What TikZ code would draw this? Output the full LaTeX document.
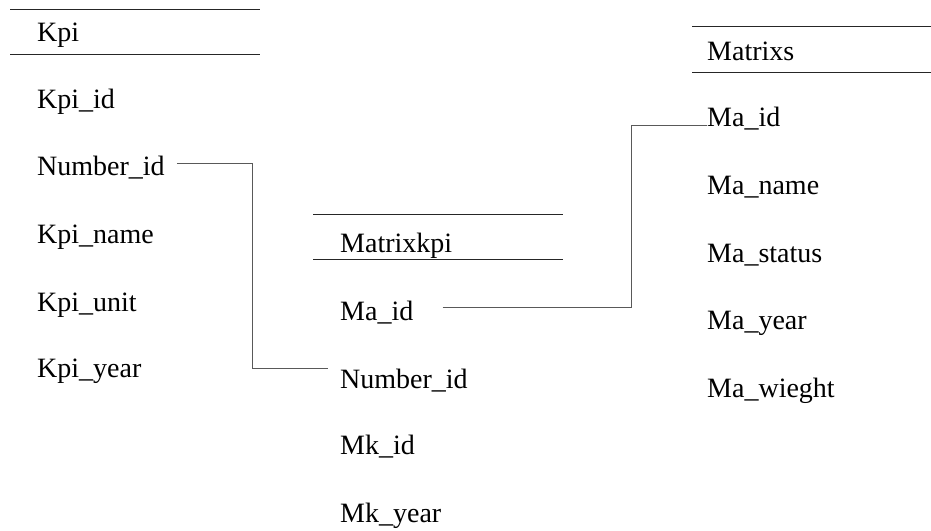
\documentclass[tikz,border=0pt]{standalone}
\usepackage{fontspec}
\setmainfont{Liberation Serif}

\tikzset{
  field/.style = {anchor = base west, inner sep = 0pt, font = \fontsize{28}{32}\selectfont},
  rule/.style  = {line width = 1pt, black!85},
  link/.style  = {line width = 1pt, black!65}
}

\begin{document}
\begin{tikzpicture}[x = 1pt, y = -1pt]
\useasboundingbox (0, 0) rectangle (931, 530);
% Horizontal lines
\draw[rule](10, 9) -- (260, 9);
\draw[rule](10, 54) -- (260, 54);
\draw[rule](313, 214) -- (563, 214);
\draw[rule](313, 259) -- (563, 259);
\draw[rule](692, 26) -- (931, 26);
\draw[rule](692, 72) -- (931, 72);
% Kpi
\node[field] (kpi) at (37, 41) {Kpi};
\node[field] (kid) at (37, 108) {Kpi\_id};
\node[field] (knum) at (37, 175) {Number\_id};
\node[field] (kname) at (37, 243) {Kpi\_name};
\node[field] (kunit) at (37, 311) {Kpi\_unit};
\node[field] (kyear) at (37, 377) {Kpi\_year};
% Matrixkpi
\node[field] (mk) at (340, 252) {Matrixkpi};
\node[field] (mkma) at (340, 320) {Ma\_id};
\node[field] (mknum) at (340, 388) {Number\_id};
\node[field] (mkid) at (340, 454) {Mk\_id};
\node[field] (mkyear) at (340, 522) {Mk\_year};
% Matrixs
\node[field] (ma) at (707, 60) {Matrixs};
\node[field] (maid) at (707, 126) {Ma\_id};
\node[field] (maname) at (707, 194) {Ma\_name};
\node[field] (mastat) at (707, 262) {Ma\_status};
\node[field] (mayear) at (707, 329) {Ma\_year};
\node[field] (maw) at (707, 397) {Ma\_wieght};
% Links
\draw[link]([xshift = 12pt, yshift = 12pt]knum.base east) -- ++(76, 0)
  |- ([xshift = -12pt, yshift = 20pt]mknum.base west);
\draw[link]([xshift = 29pt, yshift = 13pt]mkma.base east) -- ++(189, 0)
  |- ([yshift = 1pt]maid.base west);
\end{tikzpicture}
\end{document}
